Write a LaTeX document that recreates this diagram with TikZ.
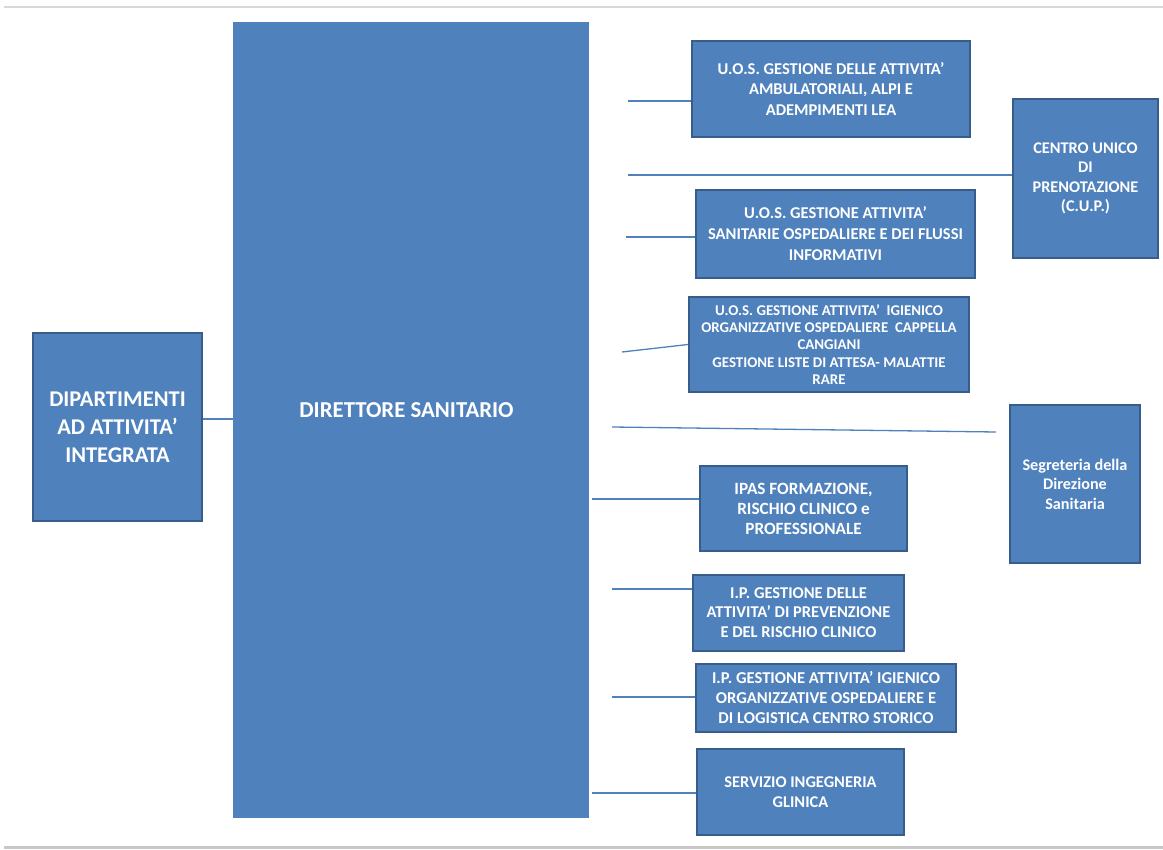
\documentclass[tikz,border=0pt]{standalone}
\usepackage{fontspec}
\setmainfont{Carlito}
\usetikzlibrary{shadows}
\definecolor{boxblue}{HTML}{4F81BD}
\definecolor{boxedge}{HTML}{385D8A}
\definecolor{rulegray}{HTML}{C8C8C8}
\tikzset{
  unit/.style={rectangle, fill=boxblue, draw=boxedge, line width=2pt,
    text=white, align=center, inner sep=0pt,
    drop shadow={shadow xshift=1.2pt, shadow yshift=-1.2pt, opacity=0.25}},
  head/.style={rectangle, fill=boxblue, inner sep=0pt},
  link/.style={draw=boxblue, line width=1.3pt},
}
\begin{document}
\begin{tikzpicture}[x=1pt,y=-1pt]
\useasboundingbox (0,0) rectangle (1163,850);
% page rules
\draw[rulegray!70, line width=2pt] (4,7.5) -- (1163,7.5);
\draw[rulegray, line width=3pt] (4,847.5) -- (1163,847.5);

% director column
\node[head, minimum width=356pt, minimum height=796pt] (dir) at (411,420) {};
\node[text=white, font=\bfseries\fontsize{22.8}{28}\selectfont] (dirtext) at (406.5,410) {DIRETTORE SANITARIO};

% left unit
\node[unit, minimum width=169pt, minimum height=188pt, font=\bfseries\fontsize{22.5}{28}\selectfont] (dip) at (117.5,427)
  {DIPARTIMENTI\\AD ATTIVITA’\\INTEGRATA};

% right units
\node[unit, minimum width=278pt, minimum height=96pt, font=\bfseries\fontsize{16.5}{20.5}\selectfont] (uos1) at (831,89)
  {U.O.S. GESTIONE DELLE ATTIVITA’\\AMBULATORIALI, ALPI E\\ADEMPIMENTI LEA};
\node[unit, minimum width=145pt, minimum height=159pt, font=\bfseries\fontsize{16.3}{19.5}\selectfont] (cup) at (1085.5,178.5)
  {CENTRO UNICO\\DI\\PRENOTAZIONE\\(C.U.P.)};
\node[unit, minimum width=279pt, minimum height=88pt, font=\bfseries\fontsize{16.5}{21}\selectfont] (uos2) at (835.5,234)
  {U.O.S. GESTIONE ATTIVITA’\\SANITARIE OSPEDALIERE E DEI FLUSSI\\INFORMATIVI};
\node[unit, minimum width=280pt, minimum height=95pt, font=\bfseries\fontsize{14.9}{17.4}\selectfont] (uos3) at (829,344.5)
  {U.O.S. GESTIONE ATTIVITA’\ \ IGIENICO\\ORGANIZZATIVE OSPEDALIERE\ \ CAPPELLA\\CANGIANI\\GESTIONE LISTE DI ATTESA- MALATTIE\\RARE};
\node[unit, minimum width=130pt, minimum height=158pt, font=\bfseries\fontsize{16.2}{19.5}\selectfont] (seg) at (1075,484)
  {Segreteria della\\Direzione\\Sanitaria};
\node[unit, minimum width=207pt, minimum height=85pt, font=\bfseries\fontsize{17.2}{20}\selectfont] (ipas) at (803.5,508.5)
  {IPAS FORMAZIONE,\\RISCHIO CLINICO e\\PROFESSIONALE};
\node[unit, minimum width=211pt, minimum height=76pt, font=\bfseries\fontsize{16.5}{19.5}\selectfont] (ip1) at (798.5,612.5)
  {I.P. GESTIONE DELLE\\ATTIVITA’ DI PREVENZIONE\\E DEL RISCHIO CLINICO};
\node[unit, minimum width=260pt, minimum height=68pt, font=\bfseries\fontsize{16.6}{20}\selectfont] (ip2) at (826,698)
  {I.P. GESTIONE ATTIVITA’ IGIENICO\\ORGANIZZATIVE OSPEDALIERE E\\DI LOGISTICA CENTRO STORICO};
\node[unit, minimum width=207pt, minimum height=86pt, font=\bfseries\fontsize{16.4}{19.5}\selectfont] (serv) at (800.5,792)
  {SERVIZIO INGEGNERIA\\GLINICA};

% connector start points beside the column
\coordinate (s1) at (628,101);
\coordinate (s2) at (628,175);
\coordinate (s3) at (626,237);
\coordinate (s4) at (622,352);
\coordinate (s5) at (612,427);
\coordinate (e5) at (996,432);
\coordinate (s6) at (592,499);
\coordinate (s7) at (612,589);
\coordinate (s8) at (612,697);
\coordinate (s9) at (592,793);
\coordinate (sd) at (0,419);

% connectors
\draw[link] (s1) -- (s1 -| uos1.west);
\draw[link] (s2) -- (s2 -| cup.west);
\draw[link] (s3) -- (s3 -| uos2.west);
\draw[link] (s4) -- (uos3.west);
\draw[link] (s5) -- (e5);
\draw[link] (s6) -- (s6 -| ipas.west);
\draw[link] (s7) -- (s7 -| ip1.west);
\draw[link] (s8) -- (s8 -| ip2.west);
\draw[link] (s9) -- (s9 -| serv.west);
\draw[link] (sd -| dip.east) -- (sd -| dir.west);
\end{tikzpicture}
\end{document}
